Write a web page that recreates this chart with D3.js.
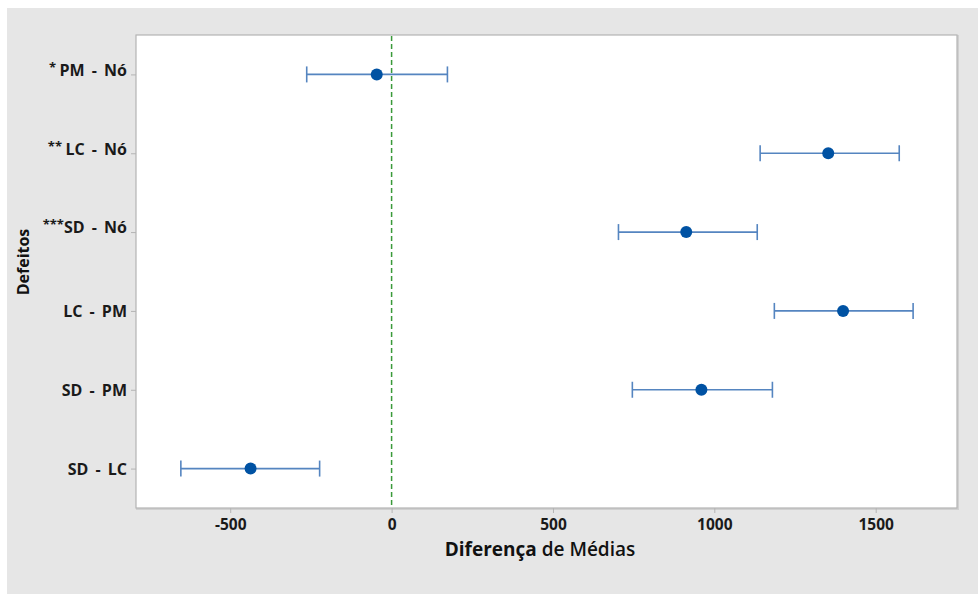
<!DOCTYPE html>
<html>
<head>
<meta charset="utf-8">
<script src="https://cdn.jsdelivr.net/npm/d3@7"></script>
<style>
  html, body { margin: 0; padding: 0; background: #ffffff; }
  svg { display: block; }
  text { font-family: "Open Sans", "Noto Sans", sans-serif; white-space: pre; }
</style>
</head>
<body>
<svg id="chart" width="978" height="594"></svg>
<script>
// Pairwise comparisons of defect types (difference of means with intervals)
const categories = ["PM - Nó", "LC - Nó", "SD - Nó", "LC - PM", "SD - PM", "SD - LC"];
const marks      = ["* ", "** ", "***", "", "", ""];
const means      = [-46, 1353, 913, 1399, 960, -437];
const lower      = [-263, 1142, 703, 1186, 746, -653];
const upper      = [173, 1573, 1133, 1616, 1180, -223];
const xTicks     = [-500, 0, 500, 1000, 1500];

const svg = d3.select("#chart");
const W = 978, H = 594;

// page background
svg.append("rect").attr("x", 7).attr("y", 8).attr("width", W - 7).attr("height", H - 8)
  .attr("fill", "#e6e6e6");

const plot = { left: 136, right: 957, top: 35, bottom: 508 };

const x = d3.scaleLinear().domain([-792, 1752]).range([plot.left, plot.right]);
const y = d3.scalePoint().domain(categories).range([plot.top, plot.bottom]).padding(0.5);

// plot frame with a faint shadow
svg.append("rect").attr("x", plot.left + 1).attr("y", plot.top + 1)
  .attr("width", plot.right - plot.left).attr("height", plot.bottom - plot.top)
  .attr("fill", "none").attr("stroke", "#d0d0d0").attr("stroke-width", 2);
svg.append("rect").attr("x", plot.left).attr("y", plot.top)
  .attr("width", plot.right - plot.left).attr("height", plot.bottom - plot.top)
  .attr("fill", "#ffffff").attr("stroke", "#b4b4b4").attr("stroke-width", 1.2);

// x axis
const xAxis = svg.append("g").attr("transform", `translate(0,${plot.bottom})`)
  .call(d3.axisBottom(x).tickValues(xTicks).tickSize(5).tickPadding(6).tickFormat(d => String(d)));
xAxis.select(".domain").remove();
xAxis.selectAll(".tick line").attr("stroke", "#b4b4b4");
xAxis.selectAll(".tick text").attr("fill", "#1a1a1a")
  .style("font-size", "15.5px").style("font-weight", 700);

// y axis
const yAxis = svg.append("g").attr("transform", `translate(${plot.left},0)`)
  .call(d3.axisLeft(y).tickSize(5).tickPadding(5).tickFormat(""));
yAxis.select(".domain").remove();
yAxis.selectAll(".tick line").attr("stroke", "#b4b4b4");
yAxis.selectAll(".tick").each(function(d, i) {
  const t = d3.select(this).append("text")
    .attr("x", -9).attr("dy", "0.35em").attr("text-anchor", "end")
    .attr("fill", "#1a1a1a").style("font-size", "16px").style("font-weight", 700);
  if (marks[i]) {
    t.append("tspan").style("font-size", "13px").attr("dy", "-0.25em").text(marks[i]);
    t.append("tspan").attr("dy", "0.25em").style("word-spacing", "3px").text(categories[i]);
  } else {
    t.append("tspan").style("word-spacing", "3px").text(categories[i]);
  }
});

// reference line at zero
svg.append("line").attr("x1", x(0)).attr("x2", x(0))
  .attr("y1", plot.top + 1).attr("y2", plot.bottom - 1)
  .attr("stroke", "#3a9a3a").attr("stroke-width", 1.5).attr("stroke-dasharray", "5,3");

// intervals
const rows = categories.map((c, i) => ({ c, m: means[i], lo: lower[i], hi: upper[i] }));
const g = svg.append("g");
const lineColor = "#5585c0";
g.selectAll("line.ci").data(rows).join("line").attr("class", "ci")
  .attr("x1", d => x(d.lo)).attr("x2", d => x(d.hi))
  .attr("y1", d => y(d.c)).attr("y2", d => y(d.c))
  .attr("stroke", lineColor).attr("stroke-width", 1.6);
g.selectAll("line.capL").data(rows).join("line").attr("class", "capL")
  .attr("x1", d => x(d.lo)).attr("x2", d => x(d.lo))
  .attr("y1", d => y(d.c) - 8).attr("y2", d => y(d.c) + 8)
  .attr("stroke", lineColor).attr("stroke-width", 1.6);
g.selectAll("line.capR").data(rows).join("line").attr("class", "capR")
  .attr("x1", d => x(d.hi)).attr("x2", d => x(d.hi))
  .attr("y1", d => y(d.c) - 8).attr("y2", d => y(d.c) + 8)
  .attr("stroke", lineColor).attr("stroke-width", 1.6);
g.selectAll("circle").data(rows).join("circle")
  .attr("cx", d => x(d.m)).attr("cy", d => y(d.c)).attr("r", 6)
  .attr("fill", "#0052a3");

// axis titles
const xt = svg.append("text").attr("x", 540).attr("y", 556).attr("text-anchor", "middle")
  .attr("fill", "#111").style("font-size", "19px");
xt.append("tspan").style("font-weight", 700).text("Diferença");
xt.append("tspan").style("font-weight", 600).text(" de Médias");

svg.append("text").attr("transform", "translate(29,262) rotate(-90)")
  .attr("text-anchor", "middle").attr("fill", "#111").style("font-size", "16px")
  .style("font-weight", 700).text("Defeitos");
</script>
</body>
</html>
